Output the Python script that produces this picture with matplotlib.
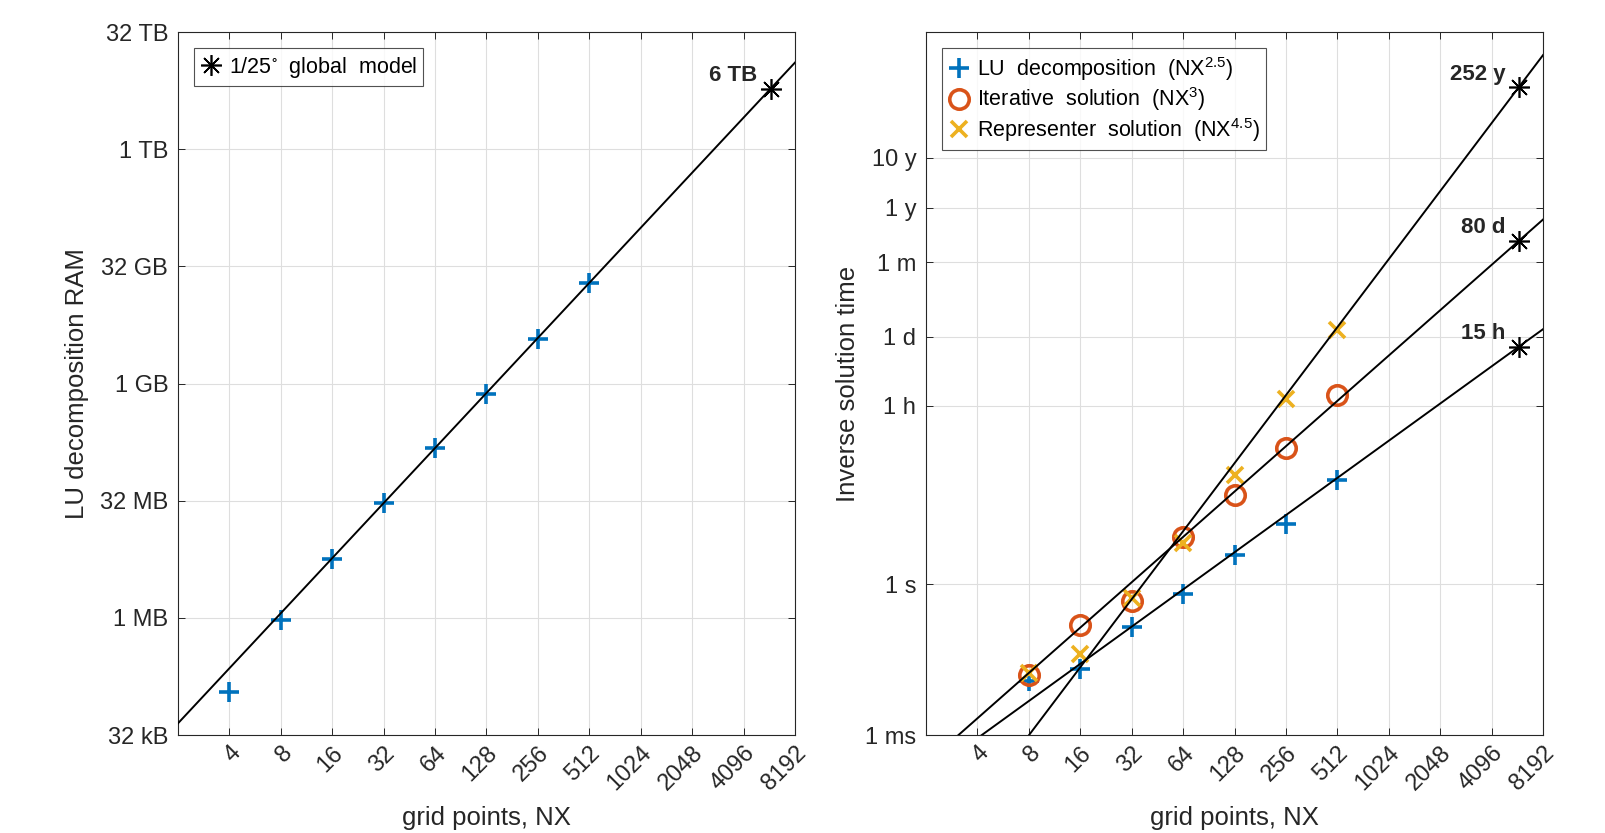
import numpy as np
import matplotlib
matplotlib.use('Agg')
import matplotlib.pyplot as plt

# fonts (MATLAB-ish look)
plt.rcParams['font.family'] = ['Liberation Sans', 'DejaVu Sans']
plt.rcParams['mathtext.fontset'] = 'custom'
plt.rcParams['mathtext.rm'] = 'Liberation Sans'
plt.rcParams['mathtext.default'] = 'regular'

# ---- data ----
nx_ticks = [4, 8, 16, 32, 64, 128, 256, 512, 1024, 2048, 4096, 8192]
nx_range = [2, 8192]

# left: LU decomposition RAM (MB = 2^20 bytes)
nx_ram = [4, 8, 16, 32, 64, 128, 256, 512]
ram_mb = [0.11, 0.95, 5.66, 30, 152, 747, 3820, 19800]
ram_global_tb = 6
ram_exponent = 2.35
ram_tick_pow2 = [15, 20, 25, 30, 35, 40, 45]
ram_tick_labels = ['32 kB', '1 MB', '32 MB', '1 GB', '32 GB', '1 TB', '32 TB']

# right: inverse solution time (seconds)
nx_time = [8, 16, 32, 64, 128, 256, 512]
t_lu = [0.012, 0.021, 0.139, 0.65, 3.9, 15.9, 120]
t_iter = [0.016, 0.155, 0.47, 8.7, 61, 523, 5820]
t_repr = [0.017, 0.042, 0.53, 6.6, 154, 4840, 1.16e5]
t_global_sec = [15 * 3600, 80 * 86400, 252 * 365 * 86400]
t_global_labels = ['15 h', '80 d', '252 y']
t_exponents = [2.46, 3.0, 4.5]
time_ticks = [1e-3, 1, 3600, 86400, 30 * 86400, 365 * 86400, 3650 * 86400]
time_tick_labels = ['1 ms', '1 s', '1 h', '1 d', '1 m', '1 y', '10 y']

nx_global = 5900  # 1/25 degree global model

blue = '#0072BD'
orange = '#D95319'
yellow = '#EDB120'
axc = '#262626'

fig = plt.figure(figsize=(16.06, 8.33), dpi=100)
ax1 = fig.add_axes([0.1108, 0.1176, 0.3842, 0.8439])
ax2 = fig.add_axes([0.5766, 0.1176, 0.3842, 0.8439])

nx_fit = np.array(nx_range, dtype=float)


def style_axes(ax):
    ax.set_xscale('log', base=2)
    ax.set_xlim(nx_range)
    ax.set_xticks(nx_ticks)
    ax.set_xticklabels([str(v) for v in nx_ticks], rotation=45, ha='right',
                       rotation_mode='anchor')
    ax.minorticks_off()
    ax.grid(True, color='#dedede', lw=0.8)
    ax.set_axisbelow(True)
    ax.tick_params(direction='in', top=True, right=True, length=5, width=0.7,
                   colors=axc, labelsize=17, pad=7)
    ax.tick_params(axis='x', pad=5)
    for s in ax.spines.values():
        s.set_color(axc)
        s.set_linewidth(0.8)
    ax.set_xlabel('grid points, NX', fontsize=18.5, color=axc, labelpad=8)


leg_kw = dict(loc='upper left', fontsize=15.5, frameon=True, fancybox=False,
              edgecolor=axc, handlelength=1.0, handletextpad=0.3,
              borderaxespad=0.75, borderpad=0.3, labelspacing=0.12)

# ---- left panel ----
ram_bytes = np.array(ram_mb) * 2.0 ** 20
ram_star = ram_global_tb * 2.0 ** 40
ax1.set_yscale('log', base=2)
ax1.set_ylim(2.0 ** 15, 2.0 ** 45)
ax1.plot(nx_fit, ram_star * (nx_fit / nx_global) ** ram_exponent, 'k-', lw=1.4, zorder=3)
ax1.plot(nx_ram, ram_bytes, '+', color=blue, ms=14, mew=2.6, zorder=2.5)
ax1.plot([nx_global], [ram_star], color='k', ls='none', marker=(8, 2, 0), ms=15, mew=1.2,
         zorder=4, label='1/25$^{\\circ}$  global  model')
ax1.annotate('%d TB' % ram_global_tb, (nx_global, ram_star), xytext=(-13, 13),
             textcoords='offset pixels', ha='right', va='center', fontsize=16,
             fontweight='bold', color=axc)
ax1.set_yticks([2.0 ** p for p in ram_tick_pow2])
ax1.set_yticklabels(ram_tick_labels)
style_axes(ax1)
ax1.set_ylabel('LU decomposition RAM', fontsize=18.5, color=axc, labelpad=8)
ax1.legend(**leg_kw).get_frame().set_linewidth(0.8)

# ---- right panel ----
ax2.set_yscale('log')
ax2.set_ylim(1e-3, 1e11)
for t0, p in zip(t_global_sec, t_exponents):
    ax2.plot(nx_fit, t0 * (nx_fit / nx_global) ** p, 'k-', lw=1.4, zorder=3)
h1, = ax2.plot(nx_time, t_lu, '+', color=blue, ms=14, mew=2.6, zorder=2.5,
               label='LU  decomposition  (NX$^{2.5}$)')
h2, = ax2.plot(nx_time, t_iter, 'o', mfc='none', mec=orange, ms=14, mew=2.6, zorder=2.5,
               label='Iterative  solution  (NX$^{3}$)')
h3, = ax2.plot(nx_time, t_repr, 'x', color=yellow, ms=11, mew=2.6, zorder=2.5,
               label='Representer  solution  (NX$^{4.5}$)')
ax2.plot([nx_global] * len(t_global_sec), t_global_sec, color='k', ls='none',
         marker=(8, 2, 0), ms=15, mew=1.2, zorder=4)
for t0, lab in zip(t_global_sec, t_global_labels):
    ax2.annotate(lab, (nx_global, t0), xytext=(-13, 13), textcoords='offset pixels',
                 ha='right', va='center', fontsize=16, fontweight='bold', color=axc)
ax2.set_yticks(time_ticks)
ax2.set_yticklabels(time_tick_labels)
style_axes(ax2)
ax2.set_ylabel('Inverse solution time', fontsize=18.5, color=axc, labelpad=4)
ax2.legend(handles=[h1, h2, h3], **leg_kw).get_frame().set_linewidth(0.8)

fig.savefig('out.png', dpi=100)
